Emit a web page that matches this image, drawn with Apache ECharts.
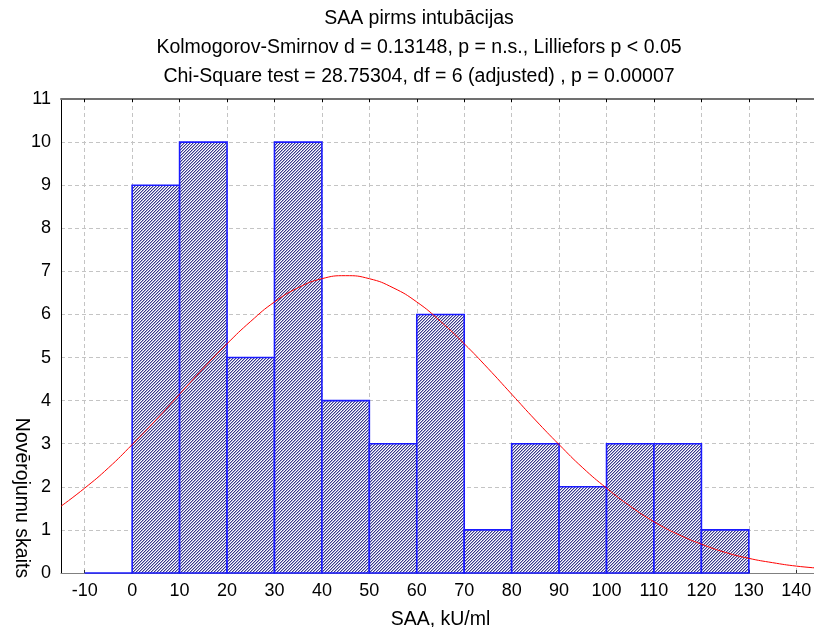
<!DOCTYPE html>
<html>
<head>
<meta charset="utf-8">
<script src="https://cdn.jsdelivr.net/npm/echarts@6/dist/echarts.min.js"></script>
<style>
  html, body { margin: 0; padding: 0; background: #fff; }
  #chart { width: 814px; height: 627px; }
</style>
</head>
<body>
<div id="chart"></div>
<script>
// histogram bins (start of each 10-wide bin) and counts
const binStarts = [-10, 0, 10, 20, 30, 40, 50, 60, 70, 80, 90, 100, 110, 120];
const counts = [0, 9, 10, 5, 10, 4, 3, 6, 1, 3, 2, 3, 3, 1];
const binWidth = 10;

// expected normal curve
const curveX = [-15, -10, -5, 0, 5, 10, 15, 20, 25, 30, 35, 40, 45, 50, 55, 60, 65, 70, 75, 80,
  85, 90, 95, 100, 105, 110, 115, 120, 125, 130, 135, 140, 145];
const curveY = [1.55, 1.97, 2.44, 2.98, 3.55, 4.15, 4.75, 5.32, 5.84, 6.29, 6.62, 6.83, 6.9, 6.83,
  6.62, 6.29, 5.84, 5.32, 4.75, 4.15, 3.55, 2.98, 2.44, 1.97, 1.55, 1.19, 0.9, 0.67, 0.48, 0.34,
  0.24, 0.16, 0.11];

const xTicks = [-10, 0, 10, 20, 30, 40, 50, 60, 70, 80, 90, 100, 110, 120, 130, 140];

const titleLines = [
  'SAA pirms intubācijas',
  'Kolmogorov-Smirnov d = 0.13148, p = n.s., Lilliefors p < 0.05',
  'Chi-Square test = 28.75304, df = 6 (adjusted) , p = 0.00007'
];

// fine diagonal "/" hatching tile
function hatch() {
  let c = document.createElement('canvas');
  c.width = 3; c.height = 3;
  let g = c.getContext('2d');
  let cols = ['#3a3a86', '#a8a8d6', '#ffffff'];
  for (let y = 0; y < 3; y++) {
    for (let k = 0; k < 3; k++) {
      g.fillStyle = cols[k];
      g.fillRect((2 - y + k) % 3, y, 1, 1);
    }
  }
  return c;
}

let chart = echarts.init(document.getElementById('chart'));
let pattern = { image: hatch(), repeat: 'repeat' };
const font = 'Liberation Sans, Arial, sans-serif';

let bars = binStarts.map((s, i) => [s, counts[i]]);
let curve = curveX.map((x, i) => [x, curveY[i]]);

chart.setOption({
  animation: false,
  graphic: titleLines.map((t, i) => ({
    type: 'text',
    x: 419,
    y: 19 + i * 29,
    style: { text: t, fill: '#000', font: '19.5px ' + font, align: 'center', verticalAlign: 'middle' }
  })).concat([{
    type: 'text',
    x: 21,
    y: 498,
    rotation: -Math.PI / 2,
    style: { text: 'Novērojumu skaits', fill: '#000', font: '19.5px ' + font, align: 'center', verticalAlign: 'middle' }
  }]),
  grid: { left: 61, right: -6, top: 99, bottom: 54, outerBoundsMode: 'none', containLabel: false },
  xAxis: [{
    type: 'value',
    min: -15,
    max: 145,
    name: 'SAA, kU/ml',
    nameLocation: 'middle',
    nameGap: 37,
    nameTextStyle: { color: '#000', fontSize: 19.5, fontFamily: font },
    axisLine: { show: true, lineStyle: { color: '#808080', width: 1 } },
    axisTick: { show: true, inside: true, length: 3, lineStyle: { color: '#333' }, customValues: xTicks },
    axisLabel: { color: '#000', fontSize: 18, fontFamily: font, margin: 9, customValues: xTicks },
    splitLine: { show: true, lineStyle: { color: '#c4c4c4', type: [4, 3] } }
  }, {
    type: 'value',
    position: 'top',
    min: -15,
    max: 145,
    axisLine: { show: true, onZero: false, lineStyle: { color: '#707070', width: 2 } },
    axisTick: { show: true, inside: true, length: 3, lineStyle: { color: '#000' }, customValues: xTicks },
    axisLabel: { show: false },
    splitLine: { show: false }
  }],
  yAxis: {
    type: 'value',
    min: 0,
    max: 11,
    interval: 1,
    axisLine: { show: true, onZero: false, lineStyle: { color: '#000', width: 1 } },
    axisTick: { show: false },
    axisLabel: { color: '#000', fontSize: 18, fontFamily: font, margin: 10 },
    splitLine: { show: true, lineStyle: { color: '#c4c4c4', type: [4, 3] } }
  },
  series: [{
    type: 'custom',
    data: bars,
    renderItem: function (params, api) {
      let x0 = api.value(0), h = api.value(1);
      let p0 = api.coord([x0, 0]);
      let p1 = api.coord([x0 + binWidth, h]);
      return {
        type: 'rect',
        shape: { x: p0[0], y: p1[1], width: p1[0] - p0[0], height: p0[1] - p1[1] },
        style: { fill: pattern, stroke: '#1a1aff', lineWidth: 1.6 }
      };
    },
    z: 2
  }, {
    type: 'line',
    data: curve,
    smooth: true,
    showSymbol: false,
    lineStyle: { color: '#ff0000', width: 1 },
    z: 3
  }]
});
</script>
</body>
</html>
